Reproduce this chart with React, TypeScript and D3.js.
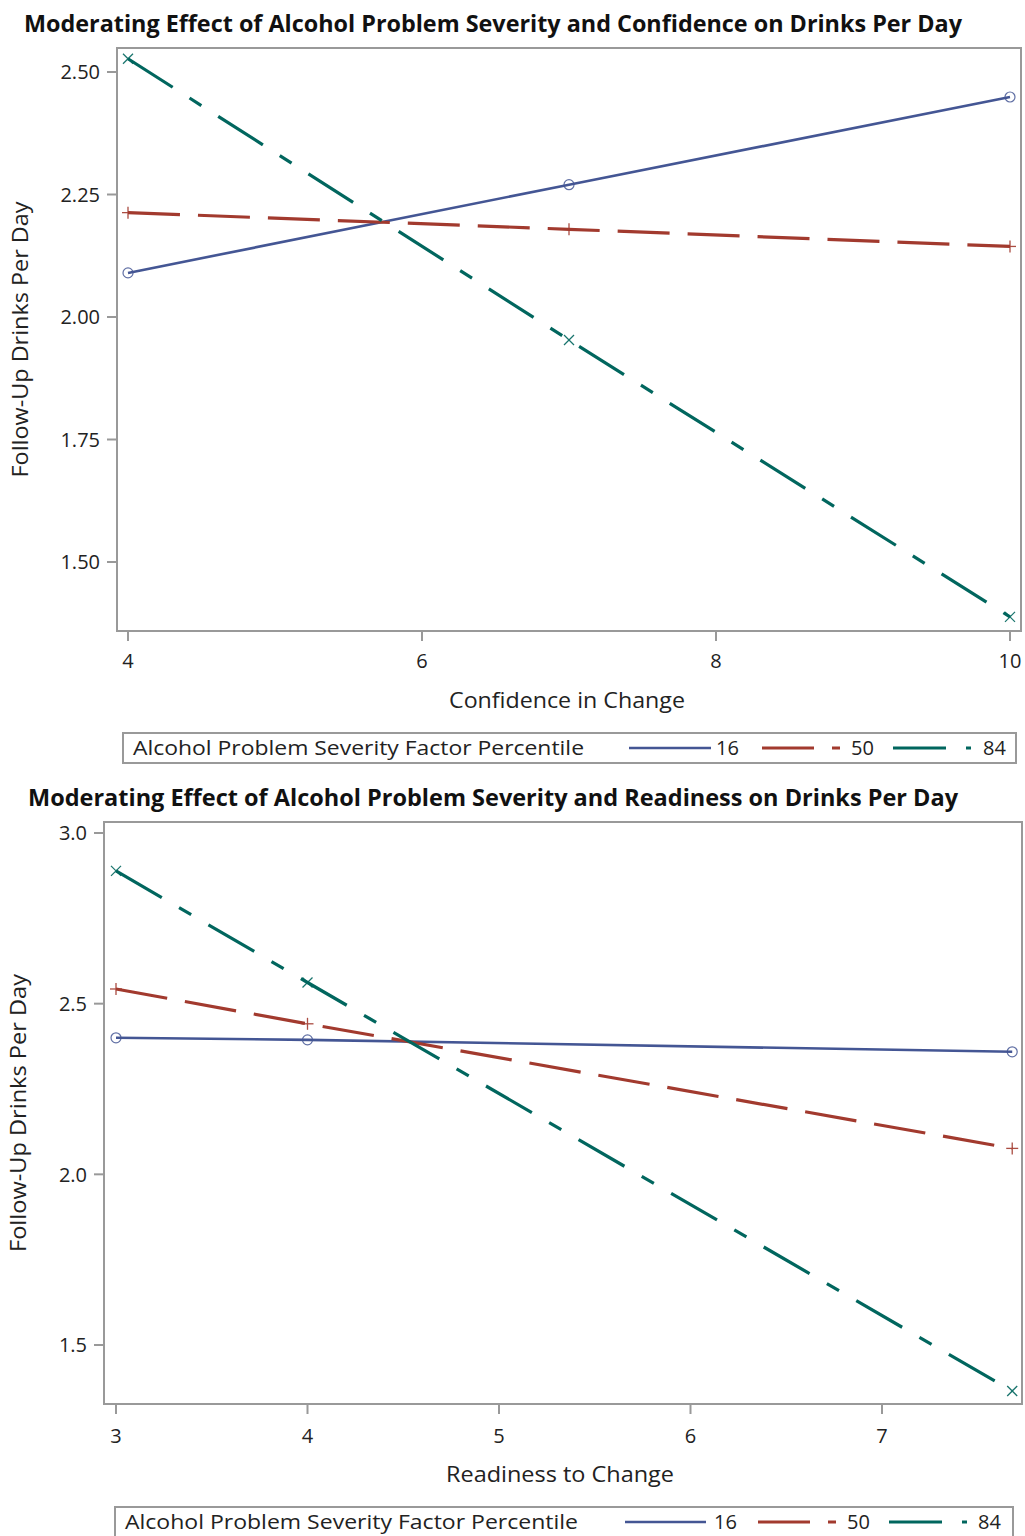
import React from "react";
import * as d3 from "d3";

// ---------- Data ----------
const legendTitle = "Alcohol Problem Severity Factor Percentile";
const groupLabels = ["16", "50", "84"];
const groupColors = ["#445694", "#A23A2E", "#01665E"];

const confX = [4, 7, 10];
const conf16 = [2.09, 2.27, 2.449];
const conf50 = [2.213, 2.179, 2.144];
const conf84 = [2.527, 1.953, 1.388];
const confXTicks = [4, 6, 8, 10];
const confYTicks = [1.5, 1.75, 2.0, 2.25, 2.5];

const readX = [3, 4, 7.68];
const read16 = [2.4, 2.394, 2.359];
const read50 = [2.543, 2.441, 2.076];
const read84 = [2.889, 2.562, 1.365];
const readXTicks = [3, 4, 5, 6, 7];
const readYTicks = [1.5, 2.0, 2.5, 3.0];

const FONT = "'Open Sans', 'Noto Sans', sans-serif";
const FRAME = "#999999";
const dashes = [null, "52 18", "53 20 14 20"];
const widths = [2.6, 3.2, 3.2];

type PanelProps = {
  title: string;
  titleX: number;
  titleY: number;
  titleLen: number;
  xs: number[];
  series: number[][];
  xTicks: number[];
  yTicks: number[];
  yFmt: (v: number) => string;
  xDom: [number, number];
  xRange: [number, number];
  yDom: [number, number];
  yRange: [number, number];
  frame: { x0: number; x1: number; y0: number; y1: number };
  xLabel: string;
  xLabelX: number;
  xLabelY: number;
  xLabelLen: number;
  xTickY: number;
  yLabelX: number;
  yLabelLen: number;
  legend: { x0: number; x1: number; y0: number; y1: number; textX: number; textLen: number; items: { lx0: number; lx1: number; tx: number }[] };
};

function Marker({ i, x, y, color }: { i: number; x: number; y: number; color: string }) {
  if (i === 0) return <circle cx={x} cy={y} r={5} fill="none" stroke={color} strokeWidth={1.2} opacity={0.85} />;
  if (i === 1)
    return (
      <g stroke={color} strokeWidth={1.3} opacity={0.9}>
        <line x1={x - 6} x2={x + 6} y1={y} y2={y} />
        <line x1={x} x2={x} y1={y - 6} y2={y + 6} />
      </g>
    );
  return (
    <g stroke={color} strokeWidth={1.3} opacity={0.9}>
      <line x1={x - 5} x2={x + 5} y1={y - 5} y2={y + 5} />
      <line x1={x - 5} x2={x + 5} y1={y + 5} y2={y - 5} />
    </g>
  );
}

function Panel(p: PanelProps) {
  const x = d3.scaleLinear().domain(p.xDom).range(p.xRange);
  const y = d3.scaleLinear().domain(p.yDom).range(p.yRange);
  const line = d3
    .line<[number, number]>()
    .x((d) => x(d[0]))
    .y((d) => y(d[1]));
  const f = p.frame;
  const lg = p.legend;
  const ly = (lg.y0 + lg.y1) / 2;
  return (
    <g>
      <text x={p.titleX} y={p.titleY} fontFamily={FONT} fontWeight={700} fontSize={24} fill="#111" textLength={p.titleLen} lengthAdjust="spacingAndGlyphs">
        {p.title}
      </text>
      {p.series.map((s, i) => (
        <path
          key={i}
          d={line(p.xs.map((xv, j) => [xv, s[j]] as [number, number])) || ""}
          fill="none"
          stroke={groupColors[i]}
          strokeWidth={widths[i]}
          strokeDasharray={dashes[i] || undefined}
        />
      ))}
      {p.series.map((s, i) =>
        p.xs.map((xv, j) => <Marker key={i + "-" + j} i={i} x={x(xv)} y={y(s[j])} color={groupColors[i]} />)
      )}
      <rect x={f.x0} y={f.y0} width={f.x1 - f.x0} height={f.y1 - f.y0} fill="none" stroke={FRAME} strokeWidth={2} />
      {p.yTicks.map((t) => (
        <g key={"y" + t}>
          <line x1={f.x0 - 10} x2={f.x0} y1={y(t)} y2={y(t)} stroke={FRAME} strokeWidth={2} />
          <text x={f.x0 - 17} y={y(t)} dy="0.36em" textAnchor="end" fontFamily={FONT} fontSize={20} fill="#222">
            {p.yFmt(t)}
          </text>
        </g>
      ))}
      {p.xTicks.map((t) => (
        <g key={"x" + t}>
          <line x1={x(t)} x2={x(t)} y1={f.y1} y2={f.y1 + 10} stroke={FRAME} strokeWidth={2} />
          <text x={x(t)} y={p.xTickY} textAnchor="middle" fontFamily={FONT} fontSize={20} fill="#222">
            {t}
          </text>
        </g>
      ))}
      <text x={p.xLabelX} y={p.xLabelY} textAnchor="middle" fontFamily={FONT} fontSize={21} fill="#222" textLength={p.xLabelLen} lengthAdjust="spacingAndGlyphs">
        {p.xLabel}
      </text>
      <text
        transform={`translate(${p.yLabelX},${(f.y0 + f.y1) / 2}) rotate(-90)`}
        textAnchor="middle"
        fontFamily={FONT}
        fontSize={21}
        fill="#222"
        textLength={p.yLabelLen}
        lengthAdjust="spacingAndGlyphs"
      >
        Follow-Up Drinks Per Day
      </text>
      <rect x={lg.x0} y={lg.y0} width={lg.x1 - lg.x0} height={lg.y1 - lg.y0} fill="none" stroke={FRAME} strokeWidth={2} />
      <text x={lg.textX} y={ly} dy="0.36em" fontFamily={FONT} fontSize={20} fill="#222" textLength={lg.textLen} lengthAdjust="spacingAndGlyphs">
        {legendTitle}
      </text>
      {lg.items.map((it, i) => (
        <g key={"lg" + i}>
          <line x1={it.lx0} x2={it.lx1} y1={ly} y2={ly} stroke={groupColors[i]} strokeWidth={widths[i]} strokeDasharray={dashes[i] || undefined} />
          <text x={it.tx} y={ly} dy="0.36em" fontFamily={FONT} fontSize={20} fill="#222">
            {groupLabels[i]}
          </text>
        </g>
      ))}
    </g>
  );
}

export default function App() {
  return (
    <svg width={1025} height={1536} style={{ position: "absolute", left: 0, top: 0, background: "#fff" }}>
      <rect width={1025} height={1536} fill="#fff" />
      <Panel
        title="Moderating Effect of Alcohol Problem Severity and Confidence on Drinks Per Day"
        titleX={24}
        titleY={32}
        titleLen={938}
        xs={confX}
        series={[conf16, conf50, conf84]}
        xTicks={confXTicks}
        yTicks={confYTicks}
        yFmt={d3.format(".2f")}
        xDom={[4, 10]}
        xRange={[128, 1010]}
        yDom={[1.5, 2.5]}
        yRange={[562, 72]}
        frame={{ x0: 117, x1: 1021, y0: 48, y1: 631 }}
        xLabel="Confidence in Change"
        xLabelX={567}
        xLabelY={708}
        xLabelLen={236}
        xTickY={668}
        yLabelX={28}
        yLabelLen={276}
        legend={{
          x0: 123,
          x1: 1016,
          y0: 733,
          y1: 763,
          textX: 133,
          textLen: 451,
          items: [
            { lx0: 629, lx1: 711, tx: 716 },
            { lx0: 762, lx1: 840, tx: 851 },
            { lx0: 893, lx1: 971, tx: 983 },
          ],
        }}
      />
      <Panel
        title="Moderating Effect of Alcohol Problem Severity and Readiness on Drinks Per Day"
        titleX={28}
        titleY={806}
        titleLen={930}
        xs={readX}
        series={[read16, read50, read84]}
        xTicks={readXTicks}
        yTicks={readYTicks}
        yFmt={d3.format(".1f")}
        xDom={[3, 7]}
        xRange={[116, 882]}
        yDom={[1.5, 3.0]}
        yRange={[1345, 833]}
        frame={{ x0: 104, x1: 1022, y0: 822, y1: 1404 }}
        xLabel="Readiness to Change"
        xLabelX={560}
        xLabelY={1482}
        xLabelLen={228}
        xTickY={1443}
        yLabelX={26}
        yLabelLen={278}
        legend={{
          x0: 115,
          x1: 1013,
          y0: 1507,
          y1: 1537,
          textX: 125,
          textLen: 453,
          items: [
            { lx0: 625, lx1: 706, tx: 714 },
            { lx0: 758, lx1: 836, tx: 847 },
            { lx0: 889, lx1: 967, tx: 978 },
          ],
        }}
      />
    </svg>
  );
}
